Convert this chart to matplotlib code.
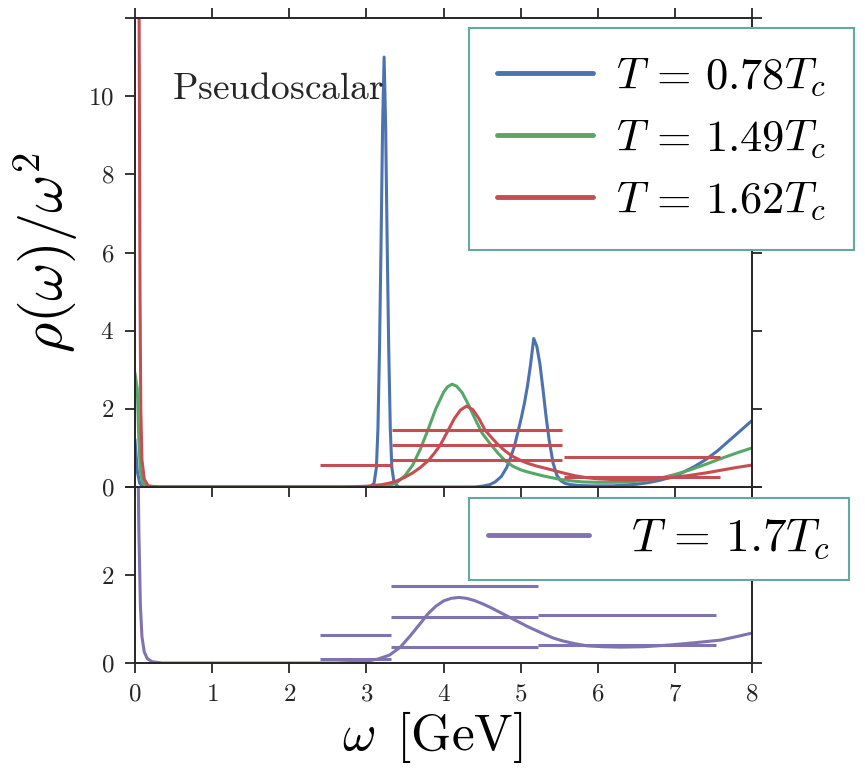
import matplotlib
matplotlib.use("Agg")
import matplotlib.pyplot as plt
from matplotlib.lines import Line2D

plt.rcParams['mathtext.fontset'] = 'cm'
plt.rcParams['font.family'] = ['serif']
plt.rcParams['font.serif'] = ['cmr10', 'DejaVu Serif']
plt.rcParams['axes.unicode_minus'] = False

# ---------------- data ----------------
omega_blue = [0.0, 0.03, 0.06, 0.1, 0.3, 2.9, 3.05, 3.1, 3.13, 3.15, 3.17, 3.19, 3.21, 3.23,
              3.25, 3.27, 3.29, 3.31, 3.33, 3.36, 3.42, 4.4, 4.5, 4.6, 4.67, 4.75, 4.82,
              4.87, 4.92, 4.97, 5.01, 5.05, 5.09, 5.13, 5.17, 5.21, 5.25, 5.29, 5.33,
              5.37, 5.42, 5.47, 5.52, 5.58, 5.65, 5.75, 5.9, 6.05, 6.2, 6.35, 6.5, 6.65,
              6.8, 6.95, 7.1, 7.25, 7.4, 7.55, 7.7, 7.85, 8.0]
rho_blue = [1.2, 0.4, 0.1, 0.01, 0.0, 0.0, 0.0, 0.1, 0.5, 1.5, 3.5, 6.2, 9.2, 11.0,
            9.2, 6.2, 3.5, 1.5, 0.5, 0.1, 0.0, 0.0, 0.02, 0.06, 0.13, 0.27, 0.5,
            0.75, 1.05, 1.45, 1.78, 2.15, 2.6, 3.15, 3.8, 3.6, 3.15, 2.5, 1.8,
            1.2, 0.62, 0.3, 0.16, 0.09, 0.06, 0.04, 0.03, 0.03, 0.03, 0.05, 0.07, 0.11,
            0.17, 0.25, 0.37, 0.52, 0.7, 0.92, 1.18, 1.44, 1.7]

omega_green = [0.0, 0.03, 0.05, 0.07, 0.1, 0.15, 0.3, 3.0, 3.2, 3.3, 3.4, 3.5, 3.6, 3.7,
               3.8, 3.9, 4.0, 4.05, 4.11, 4.17, 4.24, 4.32, 4.4, 4.5, 4.6, 4.7, 4.8,
               4.9, 5.0, 5.1, 5.2, 5.3, 5.4, 5.5, 5.65, 5.8, 6.0, 6.2, 6.4, 6.6, 6.8,
               7.0, 7.2, 7.4, 7.6, 7.8, 8.0]
rho_green = [2.9, 2.5, 1.2, 0.4, 0.1, 0.02, 0.0, 0.0, 0.0, 0.03, 0.12, 0.29, 0.56, 0.97,
             1.47, 2.0, 2.42, 2.56, 2.63, 2.58, 2.42, 2.12, 1.78, 1.38, 1.12, 0.88, 0.67,
             0.53, 0.44, 0.38, 0.33, 0.28, 0.24, 0.2, 0.16, 0.13, 0.12, 0.12, 0.13, 0.16, 0.22,
             0.32, 0.44, 0.58, 0.73, 0.87, 1.0]

omega_red = [0.0, 0.05, 0.065, 0.075, 0.09, 0.12, 0.17, 0.3, 2.7, 3.0, 3.2, 3.3, 3.4, 3.5,
             3.6, 3.7, 3.8, 3.88, 3.96, 4.06, 4.14, 4.22, 4.3, 4.38, 4.46, 4.54, 4.62,
             4.71, 4.8, 4.9, 5.0, 5.1, 5.2, 5.3, 5.4, 5.55, 5.7, 5.85, 6.0, 6.2, 6.4, 6.6,
             6.8, 7.0, 7.2, 7.4, 7.6, 7.8, 8.0]
rho_red = [60.0, 14.0, 5.0, 2.0, 0.7, 0.2, 0.03, 0.0, 0.0, 0.02, 0.06, 0.1, 0.16, 0.25,
           0.36, 0.5, 0.67, 0.86, 1.08, 1.45, 1.75, 1.97, 2.07, 1.98, 1.75, 1.45, 1.27,
           1.08, 0.92, 0.78, 0.68, 0.6, 0.54, 0.49, 0.44, 0.36, 0.29, 0.24, 0.21, 0.19, 0.18, 0.19,
           0.21, 0.25, 0.3, 0.36, 0.43, 0.5, 0.56]

omega_purple = [0.0, 0.03, 0.05, 0.07, 0.09, 0.12, 0.16, 0.22, 0.35, 2.6, 2.8, 3.0, 3.15, 3.3,
                3.44, 3.57, 3.7, 3.8, 3.9, 4.0, 4.1, 4.2, 4.3, 4.4, 4.5, 4.6, 4.7, 4.8,
                4.9, 5.0, 5.1, 5.2, 5.3, 5.42, 5.55, 5.7, 5.86, 6.07, 6.29, 6.6, 6.94, 7.25,
                7.59, 7.8, 8.0]
rho_purple = [30.0, 6.0, 3.0, 1.3, 0.6, 0.25, 0.1, 0.03, 0.0, 0.0, 0.01, 0.04, 0.09, 0.18,
              0.36, 0.62, 0.9, 1.12, 1.29, 1.41, 1.47, 1.49, 1.47, 1.42, 1.35, 1.27, 1.18, 1.09,
              1.0, 0.91, 0.82, 0.74, 0.66, 0.57, 0.5, 0.44, 0.39, 0.37, 0.36, 0.37, 0.41, 0.46,
              0.52, 0.6, 0.68]

red_seg_start = [2.4, 3.33, 3.33, 3.33, 5.56, 5.56]
red_seg_end = [3.33, 5.54, 5.54, 5.54, 7.58, 7.58]
red_seg_level = [0.56, 1.46, 1.07, 0.69, 0.77, 0.26]

purple_seg_start = [2.4, 2.4, 3.32, 3.32, 3.32, 5.22, 5.22]
purple_seg_end = [3.32, 3.32, 5.22, 5.22, 5.22, 7.53, 7.53]
purple_seg_level = [0.64, 0.09, 1.75, 1.05, 0.36, 1.09, 0.41]

top_labels = [r'$T\,=\,0.78T_c$', r'$T\,=\,1.49T_c$', r'$T\,=\,1.62T_c$']
bottom_label = r'$T\,=\,1.7T_c\;$'
x_ticks = [0, 1, 2, 3, 4, 5, 6, 7, 8]
top_yticks = [0, 2, 4, 6, 8, 10, 12]
bot_yticks = [0, 2, 4]

# ---------------- style ----------------
c_blue, c_green, c_red, c_purple = '#4C72B0', '#55A868', '#C44E52', '#8172B2'
spine_c = '#262626'
lw = 2.2

fig = plt.figure(figsize=(8.65, 7.68), dpi=100)
L, R = 135 / 865, 752 / 865
ax1 = fig.add_axes([L, 1 - 487 / 768, R - L, (487 - 18) / 768])
ax2 = fig.add_axes([L, 1 - 663 / 768, R - L, (663 - 487) / 768], sharex=ax1)

ax1.plot(omega_blue, rho_blue, color=c_blue, lw=lw)
ax1.plot(omega_green, rho_green, color=c_green, lw=lw)
ax1.plot(omega_red, rho_red, color=c_red, lw=lw)
ax1.hlines(red_seg_level, red_seg_start, red_seg_end, color=c_red, lw=lw)

ax2.plot(omega_purple, rho_purple, color=c_purple, lw=lw)
ax2.hlines(purple_seg_level, purple_seg_start, purple_seg_end, color=c_purple, lw=lw)

ax1.set_xlim(0, 8)
ax1.set_ylim(0, 12)
ax2.set_ylim(0, 4)

for ax in (ax1, ax2):
    for sp in ax.spines.values():
        sp.set_color(spine_c)
        sp.set_linewidth(1.4)
    ax.tick_params(direction='out', length=7, width=1.3, color=spine_c,
                   top=True, right=True, labelsize=18, labelcolor=spine_c, pad=8)

ax1.set_xticks(x_ticks)
ax1.tick_params(labelbottom=False)
ax2.set_xticks(x_ticks)
ax2.set_xticklabels([r'$%d$' % t for t in x_ticks])
ax1.set_yticks(top_yticks)
ax1.set_yticklabels([r'$%d$' % t for t in top_yticks[:-1]] + [''])
ax2.set_yticks(bot_yticks)
ax2.set_yticklabels([r'$%d$' % t for t in bot_yticks[:-1]] + [''])

ax1.text(0.06, 0.827, r'$\mathrm{Pseudoscalar}$', transform=ax1.transAxes,
         fontsize=27, color=spine_c, ha='left', va='baseline')

ax1.set_ylabel(r'$\rho(\omega)/\omega^2$', fontsize=42, labelpad=6)
ax2.set_xlabel(r'$\omega\ \,[\mathrm{GeV}]$', fontsize=37, labelpad=2)
ax2.xaxis.set_label_coords((432 - 135) / 617, -0.26)
ax2.xaxis.label.set_va('top')

h1 = [Line2D([], [], color=c, lw=3.5, solid_capstyle='round') for c in (c_blue, c_green, c_red)]
leg1 = ax1.legend(h1, top_labels, loc='upper left', bbox_to_anchor=(469 / 865, 1 - 28 / 768),
                  bbox_transform=fig.transFigure, borderaxespad=0, fontsize=32,
                  handlelength=2.16, handletextpad=0.5, borderpad=0.64, labelspacing=0.45,
                  frameon=True, fancybox=False, framealpha=1, edgecolor='#62aaa0')
leg1.get_frame().set_linewidth(1.5)

h2 = [Line2D([], [], color=c_purple, lw=3.5, solid_capstyle='round')]
leg2 = ax2.legend(h2, [bottom_label], loc='upper left', bbox_to_anchor=(469 / 865, 1 - 498 / 768),
                  bbox_transform=fig.transFigure, borderaxespad=0, fontsize=34,
                  handlelength=2.14, handletextpad=0.9, borderpad=0.4,
                  frameon=True, fancybox=False, framealpha=1, edgecolor='#62aaa0')
leg2.get_frame().set_linewidth(1.5)
leg1.set_zorder(10)
leg2.set_zorder(10)
ax1.set_zorder(2)

fig.savefig('out.png', dpi=100)
